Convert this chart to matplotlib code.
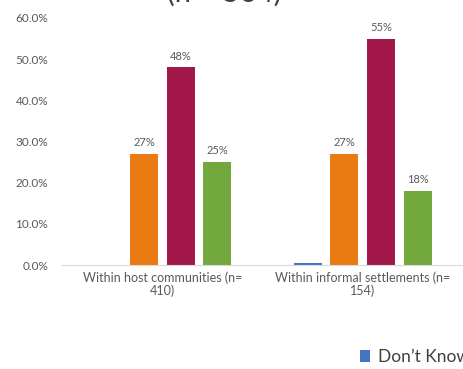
import numpy as np
import matplotlib.pyplot as plt

plt.rcParams['font.family'] = ['Lato', 'DejaVu Sans']

# data
categories = ["Within host communities (n=\n410)", "Within informal settlements (n=\n154)"]
series_names = ["Don\u2019t Know", "Series 2", "Series 3", "Series 4"]
dont_know = [0.0, 0.006]
series_2 = [0.27, 0.27]
series_3 = [0.48, 0.55]
series_4 = [0.25, 0.18]
value_labels = [[None, None], ["27%", "27%"], ["48%", "55%"], ["25%", "18%"]]

colors = ["#4472C4", "#E97B12", "#A3184A", "#72A83C"]

fig = plt.figure(figsize=(4.63, 3.69), dpi=100)
ax = fig.add_axes([62 / 463, 1 - 265 / 369, 401 / 463, 247 / 369])

x = np.arange(len(categories))
width = 0.14
step = 0.183
all_series = [dont_know, series_2, series_3, series_4]
for i, vals in enumerate(all_series):
    pos = x + (i - 1.5) * step
    bars = ax.bar(pos, vals, width=width, color=colors[i], label=series_names[i])
    for b, lab in zip(bars, value_labels[i]):
        if lab:
            ax.text(b.get_x() + b.get_width() / 2, b.get_height() + 0.014, lab,
                    ha='center', va='bottom', fontsize=8, color='#595959')

ax.set_xlim(-0.5, 1.5)
ax.set_ylim(0, 0.6)
ax.set_yticks(np.arange(0, 0.61, 0.1))
ax.set_yticklabels([f"{v * 100:.1f}%" for v in np.arange(0, 0.61, 0.1)])
ax.set_xticks(x)
ax.set_xticklabels(categories, fontsize=9, color='#595959', linespacing=1.0)
ax.tick_params(axis='y', labelsize=8.5, labelcolor='#595959', length=0, pad=10)
ax.tick_params(axis='x', length=0, pad=5)
for s in ['top', 'right', 'left']:
    ax.spines[s].set_visible(False)
ax.spines['bottom'].set_color('#D9D9D9')

# title cut off at top of the picture
fig.text(0.485, 1 - 2 / 369, "(n = 564)", ha='center', va='baseline', fontsize=21, color='#404040')

# legend, mostly outside the picture
fig.legend(handles=[ax.patches[0]], labels=[series_names[0]], loc='center left',
           bbox_to_anchor=(360 / 463, 1 - 357 / 369), frameon=False, fontsize=12.5,
           handlelength=0.55, handleheight=0.75, handletextpad=0.5, labelcolor='#404040',
           borderaxespad=0, borderpad=0)

fig.savefig("out.png", dpi=100)
